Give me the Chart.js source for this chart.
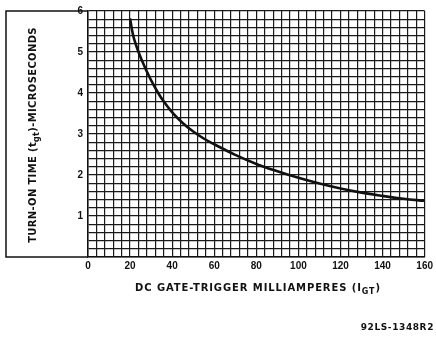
<!DOCTYPE html>
<html>
<head>
<meta charset="utf-8">
<script src="https://cdn.jsdelivr.net/npm/chart.js@4.4.1/dist/chart.umd.min.js"></script>
<style>
  html, body { margin: 0; padding: 0; background: #fff; }
  #wrap { width: 436px; height: 337px; position: relative; }
</style>
</head>
<body>
<div id="wrap"><canvas id="turn-on-chart"></canvas></div>
<script>
// gate current (mA) vs turn-on time (us)
const gateCurrentMa = [20, 21, 22, 24, 26, 28, 30, 33, 36, 40, 45, 50, 55, 60, 70, 80, 90, 100, 110, 120, 130, 140, 150, 160];
const turnOnTimeUs = [5.82, 5.52, 5.30, 5.00, 4.75, 4.52, 4.31, 4.03, 3.79, 3.53, 3.27, 3.06, 2.89, 2.75, 2.49, 2.27, 2.09, 1.93, 1.79, 1.67, 1.57, 1.49, 1.42, 1.37];

const xLabelTicks = [0, 20, 40, 60, 80, 100, 120, 140, 160];
const yLabelTicks = [1, 2, 3, 4, 5, 6];

const xTitleMain = 'DC GATE-TRIGGER MILLIAMPERES (I';
const xTitleSub = 'GT';
const xTitleEnd = ')';
const yTitleMain = 'TURN-ON TIME (t';
const yTitleSub = 'gt';
const yTitleEnd = ')-MICROSECONDS';
const drawingNo = '92LS-1348R2';

const ink = '#111';
const titleFont = 'bold 10px "DejaVu Sans"';
const subFont = 'bold 8px "DejaVu Sans"';

function drawSubText(c, parts, x, y) {
	// parts: [text, font, dy]; centred on x
	let total = 0;
	parts.forEach(p => { c.font = p[1]; total += c.measureText(p[0]).width; });
	let cx = x - total / 2;
	parts.forEach(p => {
		c.font = p[1];
		c.fillText(p[0], cx, y + p[2]);
		cx += c.measureText(p[0]).width;
	});
}

const framePlugin = {
	id: 'frame',
	afterDraw(chart) {
		const c = chart.ctx;
		const a = chart.chartArea;
		c.save();
		c.strokeStyle = ink;
		c.lineWidth = 1.5;
		c.beginPath();
		c.moveTo(a.left, a.top);
		c.lineTo(6, a.top);
		c.lineTo(6, a.bottom);
		c.lineTo(a.left, a.bottom);
		c.stroke();

		c.fillStyle = ink;
		c.textBaseline = 'alphabetic';
		c.textAlign = 'left';
		c.letterSpacing = '0.9px';
		drawSubText(c, [[xTitleMain, titleFont, 0], [xTitleSub, subFont, 3], [xTitleEnd, titleFont, 0]], 258, 291);

		c.save();
		c.letterSpacing = '0.35px';
		c.translate(36, 135);
		c.rotate(-Math.PI / 2);
		drawSubText(c, [[yTitleMain, titleFont, 0], [yTitleSub, subFont, 3], [yTitleEnd, titleFont, 0]], 0, 0);
		c.restore();

		c.font = 'bold 9px "DejaVu Sans"';
		c.letterSpacing = '0.6px';
		c.textAlign = 'right';
		c.fillText(drawingNo, 434, 330);
		c.restore();
	}
};

const ctx = document.getElementById('turn-on-chart').getContext('2d');

function isLabelTick(v, list) {
	return list.some(t => Math.abs(t - v) < 1e-6);
}

const chart = new Chart(ctx, {
	type: 'scatter',
	data: {
		datasets: [{
			data: gateCurrentMa.map((x, i) => ({ x: x, y: turnOnTimeUs[i] })),
			showLine: true,
			borderColor: ink,
			borderWidth: 2.6,
			pointRadius: 0,
			tension: 0.4,
			fill: false,
		}],
	},
	options: {
		responsive: true,
		maintainAspectRatio: false,
		animation: false,
		events: [],
		layout: { padding: { left: 0, right: 8, top: 4, bottom: 0 } },
		plugins: {
			legend: { display: false },
			tooltip: { enabled: false },
		},
		scales: {
			x: {
				type: 'linear',
				min: 0,
				max: 160,
				afterFit: scale => { scale.height = 80; },
				ticks: {
					stepSize: 4,
					autoSkip: false,
					maxRotation: 0,
					padding: 3,
					color: ink,
					font: { family: 'Liberation Sans', weight: 'bold', size: 10 },
					callback: v => isLabelTick(v, xLabelTicks) ? String(Math.round(v)) : '',
				},
				grid: { color: '#1a1a1a', lineWidth: 1.2, drawTicks: false, tickLength: 0 },
				border: { color: ink, width: 1.5 },
			},
			y: {
				type: 'linear',
				min: 0,
				max: 6,
				afterFit: scale => { scale.width = 88; },
				ticks: {
					stepSize: 0.2,
					autoSkip: false,
					padding: 5,
					color: ink,
					font: { family: 'Liberation Sans', weight: 'bold', size: 10 },
					callback: v => isLabelTick(v, yLabelTicks) ? String(Math.round(v)) : '',
				},
				grid: { color: '#1a1a1a', lineWidth: 1.2, drawTicks: false, tickLength: 0 },
				border: { color: ink, width: 1.5 },
			},
		},
	},
	plugins: [framePlugin],
});
</script>
</body>
</html>
